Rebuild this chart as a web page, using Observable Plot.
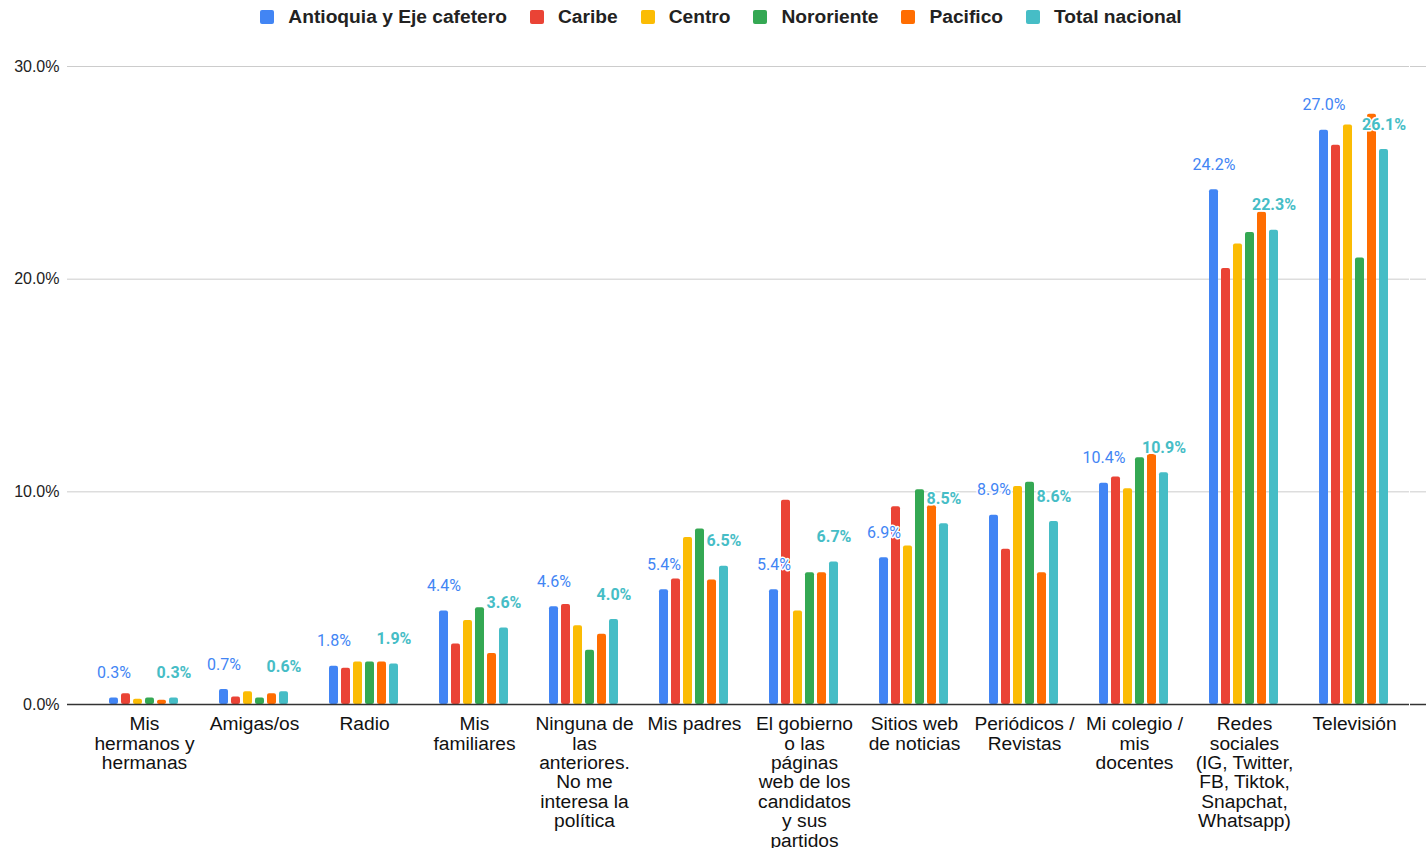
<!DOCTYPE html>
<html>
<head>
<meta charset="utf-8">
<script src="https://cdn.jsdelivr.net/npm/d3@7"></script>
<script src="https://cdn.jsdelivr.net/npm/@observablehq/plot@0.6"></script>
<style>
  html, body { margin: 0; padding: 0; background: #fff; }
  #legend { height: 34px; display: flex; justify-content: center; align-items: center; gap: 23px;
    font-family: Arial, "Liberation Sans", sans-serif; font-weight: bold; font-size: 19.2px; color: #222; padding-left: 16px; }
  .item { display: flex; align-items: center; gap: 14px; }
  .sw { width: 14px; height: 14px; border-radius: 2px; }
  #chart svg { display: block; }
</style>
</head>
<body>
<div id="legend"></div>
<div id="chart"></div>
<script>
const categories = [
  "Mis hermanos y hermanas", "Amigas/os", "Radio", "Mis familiares",
  "Ninguna de las anteriores. No me interesa la política", "Mis padres",
  "El gobierno o las páginas web de los candidatos y sus partidos",
  "Sitios web de noticias", "Periódicos / Revistas", "Mi colegio / mis docentes",
  "Redes sociales (IG, Twitter, FB, Tiktok, Snapchat, Whatsapp)", "Televisión"
];
const categoryLabels = [
  "Mis\nhermanos y\nhermanas", "Amigas/os", "Radio", "Mis\nfamiliares",
  "Ninguna de\nlas\nanteriores.\nNo me\ninteresa la\npolítica", "Mis padres",
  "El gobierno\no las\npáginas\nweb de los\ncandidatos\ny sus\npartidos",
  "Sitios web\nde noticias", "Periódicos /\nRevistas", "Mi colegio /\nmis\ndocentes",
  "Redes\nsociales\n(IG, Twitter,\nFB, Tiktok,\nSnapchat,\nWhatsapp)", "Televisión"
];
const series = ["Antioquia y Eje cafetero", "Caribe", "Centro", "Nororiente", "Pacifico", "Total nacional"];
const colors = ["#4285F4", "#EA4335", "#FBBC04", "#34A853", "#FF6D01", "#46BDC6"];

// values in percent, one array per series, in category order
const antioquia = [0.3, 0.7, 1.8, 4.4, 4.6, 5.4, 5.4, 6.9, 8.9, 10.4, 24.2, 27.0];
const caribe    = [0.5, 0.35, 1.7, 2.85, 4.7, 5.9, 9.6, 9.3, 7.3, 10.7, 20.5, 26.3];
const centro    = [0.25, 0.6, 2.0, 3.95, 3.7, 7.85, 4.4, 7.45, 10.25, 10.15, 21.65, 27.25];
const nororiente= [0.3, 0.3, 2.0, 4.55, 2.55, 8.25, 6.2, 10.1, 10.45, 11.6, 22.2, 21.0];
const pacifico  = [0.2, 0.5, 2.0, 2.4, 3.3, 5.85, 6.2, 9.35, 6.2, 11.75, 23.15, 27.75];
const total     = [0.3, 0.6, 1.9, 3.6, 4.0, 6.5, 6.7, 8.5, 8.6, 10.9, 22.3, 26.1];
const seriesValues = [antioquia, caribe, centro, nororiente, pacifico, total];

const yTicks = [0, 10, 20, 30];

const rows = [];
categories.forEach((c, i) => series.forEach((s, j) => rows.push({category: c, series: s, value: seriesValues[j][i]})));
const labelOf = new Map(categories.map((c, i) => [c, categoryLabels[i]]));
const pct = d => d.toFixed(1) + "%";

// legend
const legend = document.getElementById("legend");
series.forEach((s, j) => {
  const it = document.createElement("div"); it.className = "item";
  const sw = document.createElement("div"); sw.className = "sw"; sw.style.background = colors[j];
  const t = document.createElement("span"); t.textContent = s;
  it.append(sw, t); legend.append(it);
});

const firstS = series[0], lastS = series[series.length - 1];

const chart = Plot.plot({
  width: 1426, height: 814,
  marginTop: 32, marginBottom: 144, marginLeft: 88, marginRight: 17,
  style: {fontFamily: "Arial, 'Liberation Sans', sans-serif", background: "white", overflow: "visible"},
  fx: {domain: categories, paddingInner: 0, paddingOuter: 0, label: null},
  x: {domain: series, paddingInner: 0.22, paddingOuter: 1.4, axis: null},
  y: {domain: [0, 30], label: null},
  color: {domain: series, range: colors},
  marks: [
    Plot.ruleY(yTicks.filter(d => d > 0), {stroke: "#cccccc", strokeWidth: 1}),
    Plot.axisY({ticks: yTicks, tickFormat: pct, tickSize: 22, tickPadding: 8, stroke: "#cccccc", strokeOpacity: 1, fontSize: 16, fill: "#222", label: null}),
    Plot.axisY({ticks: [0], tickFormat: () => "", tickSize: 22, stroke: "#333", strokeWidth: 1.5, strokeOpacity: 1, label: null}),
    Plot.axisY({anchor: "right", ticks: yTicks.filter(d => d > 0), tickFormat: () => "", tickSize: 17, stroke: "#cccccc", strokeOpacity: 1, label: null}),
    Plot.axisY({anchor: "right", ticks: [0], tickFormat: () => "", tickSize: 17, stroke: "#333", strokeWidth: 1.5, strokeOpacity: 1, label: null}),
    Plot.axisFx({anchor: "bottom", tickFormat: d => labelOf.get(d), tickSize: 0, tickPadding: 12, fontSize: 19.2, lineHeight: 1.01, fill: "#111", label: null}),
    Plot.barY(rows, {fx: "category", x: "series", y: "value", fill: "series", rx: 2}),
    Plot.ruleY([0], {stroke: "#333", strokeWidth: 1.5}),
    Plot.text(rows.filter(d => d.series === firstS), {fx: "category", x: "series", y: "value", text: d => pct(d.value),
      dy: -25, fill: colors[0], stroke: "white", strokeWidth: 3, fontSize: 16, fontFamily: "Roboto, Arial, sans-serif"}),
    Plot.text(rows.filter(d => d.series === lastS), {fx: "category", x: "series", y: "value", text: d => pct(d.value),
      dy: -25, fill: colors[5], stroke: "white", strokeWidth: 3, fontSize: 16, fontWeight: "bold", fontFamily: "Roboto, Arial, sans-serif"})
  ]
});
document.getElementById("chart").append(chart);
</script>
</body>
</html>
